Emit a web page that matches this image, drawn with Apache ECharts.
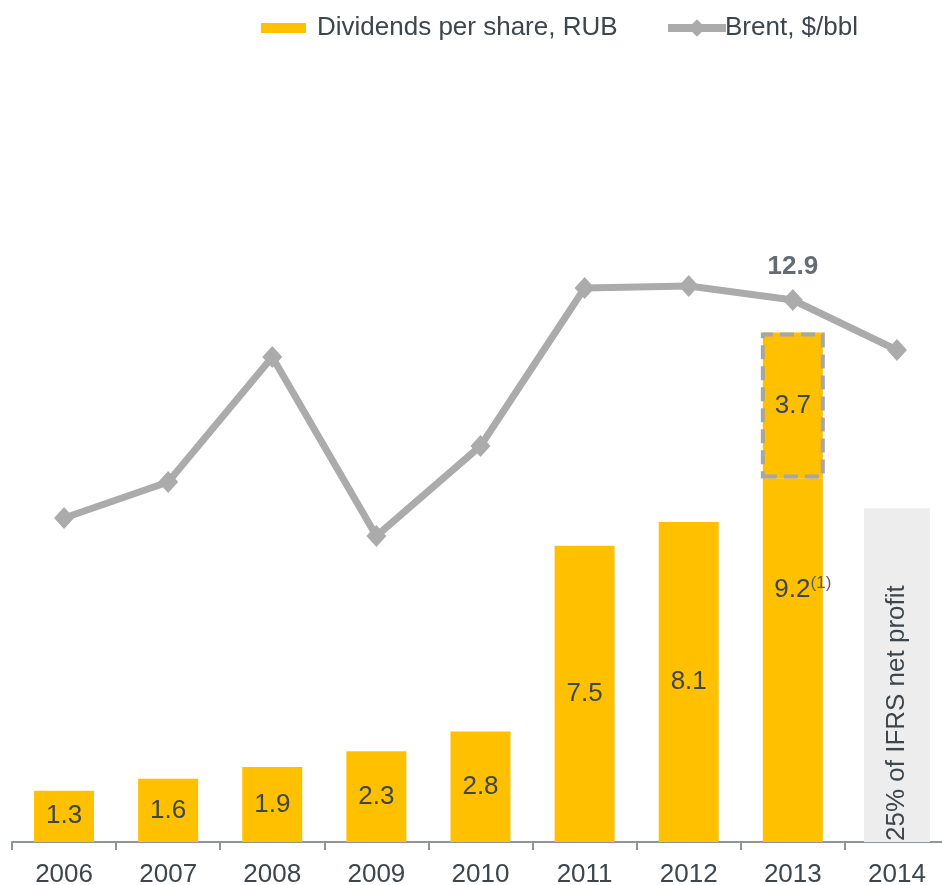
<!DOCTYPE html>
<html>
<head>
<meta charset="utf-8">
<script src="https://cdn.jsdelivr.net/npm/echarts@6/dist/echarts.min.js"></script>
<style>html,body{margin:0;padding:0;background:#fff}#c{width:942px;height:885px}</style>
</head>
<body>
<div id="c"></div>
<script>
const years = ['2006','2007','2008','2009','2010','2011','2012','2013','2014'];
const dividends = [1.3, 1.6, 1.9, 2.3, 2.8, 7.5, 8.1, 9.2, null];
const dividendsExtra = [null, null, null, null, null, null, null, 3.7, null];
const ifrsPlaceholder = [null, null, null, null, null, null, null, null, 8.45];
const ifrsLabel = '25% of IFRS net profit';
const brent = [64.8, 72.0, 97.0, 61.2, 79.2, 110.8, 111.2, 108.4, 98.4];
const footnoteIndex = 7;
const footnote = '(1)';

const textColor = '#3d464d';
const yellow = '#FFC000';
const gray = '#ababab';
const FS = 26;

const totals = dividends.map((v, i) => (v != null && dividendsExtra[i] != null) ? +(v + dividendsExtra[i]).toFixed(1) : null);
const boxBase = dividends.map((v, i) => dividendsExtra[i] != null ? v : null);

const divData = dividends.map((v, i) => {
  if (i === footnoteIndex) {
    return {
      value: v,
      label: {
        position: 'insideTop', distance: 96, offset: [10, 0],
        formatter: '{v|' + v.toFixed(1) + '}{s|' + footnote + '}'
      }
    };
  }
  return v;
});

const chart = echarts.init(document.getElementById('c'), null, {renderer: 'canvas'});
chart.setOption({
  animation: false,
  textStyle: {fontFamily: 'Liberation Sans, Arial, sans-serif'},
  legend: [
    {
      data: [{name: 'Dividends per share, RUB', icon: 'rect'}],
      left: 261, top: 15, padding: 0, itemWidth: 45, itemHeight: 10, itemGap: 10,
      textStyle: {fontSize: FS, color: textColor, padding: [0, 0, 0, 6]}
    },
    {
      data: ['Brent, $/bbl'],
      left: 664, top: 15, padding: 0, itemWidth: 58, itemHeight: 22,
      lineStyle: {width: 8, color: gray},
      itemStyle: {color: gray},
      textStyle: {fontSize: FS, color: textColor, padding: [0, 0, 0, -6]}
    }
  ],
  grid: {left: 12, width: 937, top: 52, bottom: 43, containLabel: false, outerBoundsMode: 'none'},
  xAxis: [
    {
      type: 'category', data: years,
      axisLine: {lineStyle: {color: '#8f9598', width: 2}},
      axisTick: {show: true, length: 8, lineStyle: {color: '#8f9598', width: 2}},
      axisLabel: {fontSize: FS, color: textColor, margin: 20}
    },
    {type: 'category', data: years, show: false},
    {type: 'category', data: years, show: false}
  ],
  yAxis: [
    {type: 'value', min: 0, max: 20, show: false, splitLine: {show: false}},
    {type: 'value', min: 0, max: 158, show: false, splitLine: {show: false}}
  ],
  series: [
    {
      name: 'Dividends per share, RUB', type: 'bar', stack: 'div', barWidth: 60,
      data: divData, itemStyle: {color: yellow}, z: 2,
      label: {
        show: true, position: 'inside', fontSize: FS, color: textColor,
        formatter: p => p.value == null ? '' : p.value.toFixed(1),
        rich: {
          v: {fontSize: FS, color: textColor},
          s: {fontSize: 17, color: '#5a6167', padding: [0, 0, 14, 0]}
        }
      }
    },
    {
      name: 'extra', type: 'bar', stack: 'div', barWidth: 60,
      data: dividendsExtra, z: 2,
      itemStyle: {color: yellow},
      label: {show: true, position: 'inside', fontSize: FS, color: textColor,
        formatter: p => p.value == null ? '' : p.value.toFixed(1)}
    },
    {
      name: 'boxBase', type: 'bar', stack: 'box', xAxisIndex: 2, barWidth: 64,
      data: boxBase, z: 3, silent: true,
      itemStyle: {color: 'rgba(0,0,0,0)'}
    },
    {
      name: 'box', type: 'bar', stack: 'box', xAxisIndex: 2, barWidth: 64,
      data: dividendsExtra, z: 3, silent: true,
      itemStyle: {color: 'rgba(0,0,0,0)', borderColor: '#a6a6a6', borderWidth: 4, borderType: [14, 7]}
    },
    {
      name: 'ifrs', type: 'bar', xAxisIndex: 1, barWidth: 66,
      data: ifrsPlaceholder, z: 1,
      itemStyle: {color: '#ededed'},
      label: {
        show: true, position: 'insideBottom', rotate: 90, distance: -2,
        align: 'left', verticalAlign: 'middle', offset: [3, 0],
        fontSize: FS, color: textColor, formatter: ifrsLabel
      }
    },
    {
      name: 'total', type: 'scatter', data: totals, symbolSize: 1,
      itemStyle: {color: 'rgba(0,0,0,0)'}, z: 5,
      label: {show: true, position: 'top', distance: 52, fontSize: FS, fontWeight: 'bold', color: textColor,
        formatter: p => p.value == null ? '' : p.value.toFixed(1)}
    },
    {
      name: 'Brent, $/bbl', type: 'line', yAxisIndex: 1, data: brent, z: 4,
      symbol: 'diamond', symbolSize: [20, 22],
      lineStyle: {color: gray, width: 7},
      itemStyle: {color: gray}
    }
  ]
});
</script>
</body>
</html>
